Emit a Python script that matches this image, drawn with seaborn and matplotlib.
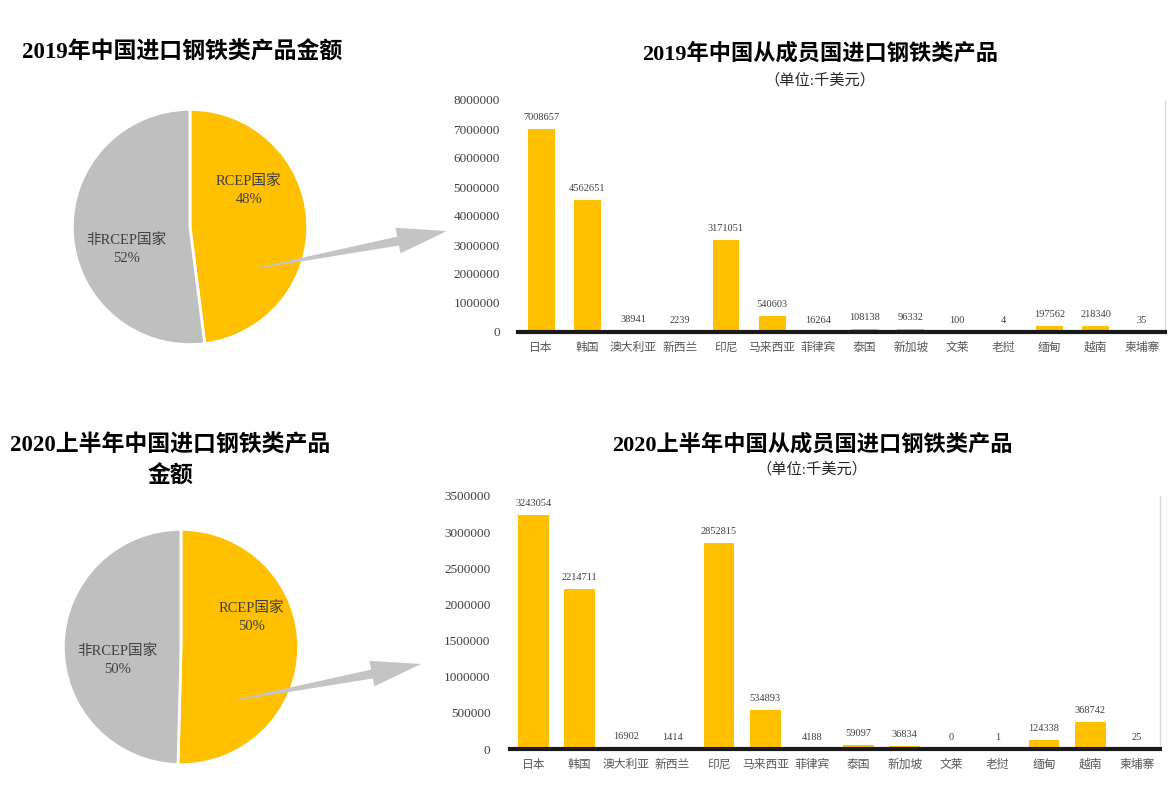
import numpy as np
import pandas as pd
import matplotlib
matplotlib.use('Agg')
import matplotlib.pyplot as plt
from matplotlib.patches import Polygon
import matplotlib.transforms as mtransforms
import seaborn as sns

# data
countries = ['日本', '韩国', '澳大利亚', '新西兰', '印尼', '马来西亚', '菲律宾',
             '泰国', '新加坡', '文莱', '老挝', '缅甸', '越南', '柬埔寨']
imports_2019 = [7008657, 4562651, 38941, 2239, 3171051, 540603, 16264,
                108138, 96332, 100, 4, 197562, 218340, 35]
imports_2020h1 = [3243054, 2214711, 16902, 1414, 2852815, 534893, 4188,
                  59097, 36834, 0, 1, 124338, 368742, 25]
pie_labels = ['RCEP国家', '非RCEP国家']
share_2019 = [48, 52]
share_2020h1 = [50.4, 49.6]

YELLOW = '#FFC000'
GRAY = '#BFBFBF'
TXT = '#404040'

sns.set_theme(style='white')
plt.rcParams['font.family'] = ['Liberation Serif', 'Noto Sans CJK SC', 'DejaVu Sans']

W, H = 1175, 787
fig = plt.figure(figsize=(W / 100, H / 100), dpi=100)


def px_box(x0, y0, x1, y1):
    # pixel box (top-left origin) -> figure fraction rect
    return [x0 / W, 1 - y1 / H, (x1 - x0) / W, (y1 - y0) / H]


def draw_pie(rect, shares, label_pos):
    ax = fig.add_axes(rect)
    ax.pie(shares, colors=[YELLOW, GRAY], startangle=90, counterclock=False,
           wedgeprops=dict(edgecolor='white', linewidth=2))
    ax.set_xlim(-1.02, 1.02)
    ax.set_ylim(-1.02, 1.02)
    ax.set_aspect('equal')
    for lab, val, (tx, ty) in zip(pie_labels, shares, label_pos):
        ax.text(tx, ty, f'{lab}\n{val:.0f}%', ha='center', va='center',
                fontsize=10.5, color=TXT, linespacing=1.5)
    return ax


def draw_bars(rect, values, ymax, step, ylabel_pad, bar_w):
    ax = fig.add_axes(rect)
    df = pd.DataFrame({'country': countries, 'value': values})
    sns.barplot(data=df, x='country', y='value', color=YELLOW, width=bar_w,
                saturation=1, ax=ax)
    for p in ax.patches:
        p.set_edgecolor('none')
    ax.bar_label(ax.containers[0], fmt='%d', padding=5, fontsize=7.5, color=TXT)
    ax.set_ylim(0, ymax)
    ax.set_yticks(np.arange(0, ymax + 1, step))
    ax.set_yticklabels([f'{int(v)}' for v in np.arange(0, ymax + 1, step)])
    ax.set_xlabel('')
    ax.set_ylabel('')
    ax.tick_params(axis='y', length=0, pad=ylabel_pad, labelsize=9.5, labelcolor=TXT)
    # category labels drawn on a common baseline below the axis
    ax.set_xticks(range(len(countries)))
    ax.set_xticklabels([])
    ax.tick_params(axis='x', length=0)
    trans = mtransforms.blended_transform_factory(ax.transData, ax.transAxes)
    off = mtransforms.ScaledTranslation(0, -19 / 100, fig.dpi_scale_trans)
    for i, name in enumerate(countries):
        ax.text(i, 0, name, transform=trans + off, ha='center', va='baseline',
                fontsize=8.5, color='#595959', family=['Noto Sans CJK SC'])
    for s in ['top', 'left']:
        ax.spines[s].set_visible(False)
    ax.spines['right'].set_color('#D9D9D9')
    ax.spines['right'].set_linewidth(1)
    ax.spines['bottom'].set_color('#1A1A1A')
    ax.spines['bottom'].set_linewidth(3)
    return ax


def draw_arrow(x0, y0, x1, y1):
    # tapered gray arrow in pixel coords
    d = np.array([x1 - x0, y1 - y0], dtype=float)
    L = np.hypot(*d)
    u = d / L
    n = np.array([-u[1], u[0]])
    p0 = np.array([x0, y0], dtype=float)
    hb = p0 + u * (L - 50)
    pts = [p0 + n * 0.5, hb + n * 5, hb + n * 13, np.array([x1, y1]),
           hb - n * 13, hb - n * 4, p0 - n * 0.5]
    pts = [(p[0] / W, 1 - p[1] / H) for p in pts]
    fig.patches.append(Polygon(pts, closed=True, transform=fig.transFigure,
                               facecolor='#C4C4C4', edgecolor='none', zorder=5))


# 2019 pie
draw_pie(px_box(70, 107, 310, 347), share_2019, [(0.5, 0.31), (-0.54, -0.19)])
fig.text(182 / W, 1 - 52 / H, '2019年中国进口钢铁类产品金额', ha='center', va='center',
         fontsize=16.5, fontweight='bold', color='black')

# 2020 H1 pie
draw_pie(px_box(61, 527, 301, 767), share_2020h1, [(0.6, 0.25), (-0.54, -0.11)])
fig.text(170 / W, 1 - 461 / H, '2020上半年中国进口钢铁类产品\n金额', ha='center',
         va='center', fontsize=16.5, fontweight='bold', color='black', linespacing=1.5)

# 2019 bars
draw_bars(px_box(518, 100, 1165, 332), imports_2019, 8000000, 1000000, 13, 0.58)
fig.text(820 / W, 1 - 54 / H, '2019年中国从成员国进口钢铁类产品', ha='center',
         va='center', fontsize=16, fontweight='bold', color='black')
fig.text(820 / W, 1 - 80 / H, '（单位:千美元）', ha='center', va='center',
         fontsize=11, color='#262626')

# 2020 H1 bars
draw_bars(px_box(510, 496, 1160, 749), imports_2020h1, 3500000, 500000, 14, 0.66)
fig.text(812 / W, 1 - 445 / H, '2020上半年中国从成员国进口钢铁类产品', ha='center',
         va='center', fontsize=16, fontweight='bold', color='black')
fig.text(812 / W, 1 - 469 / H, '（单位:千美元）', ha='center', va='center',
         fontsize=11, color='#262626')

draw_arrow(258, 268, 447, 231)
draw_arrow(236, 700, 421, 664)

fig.savefig('out.png', dpi=100)
